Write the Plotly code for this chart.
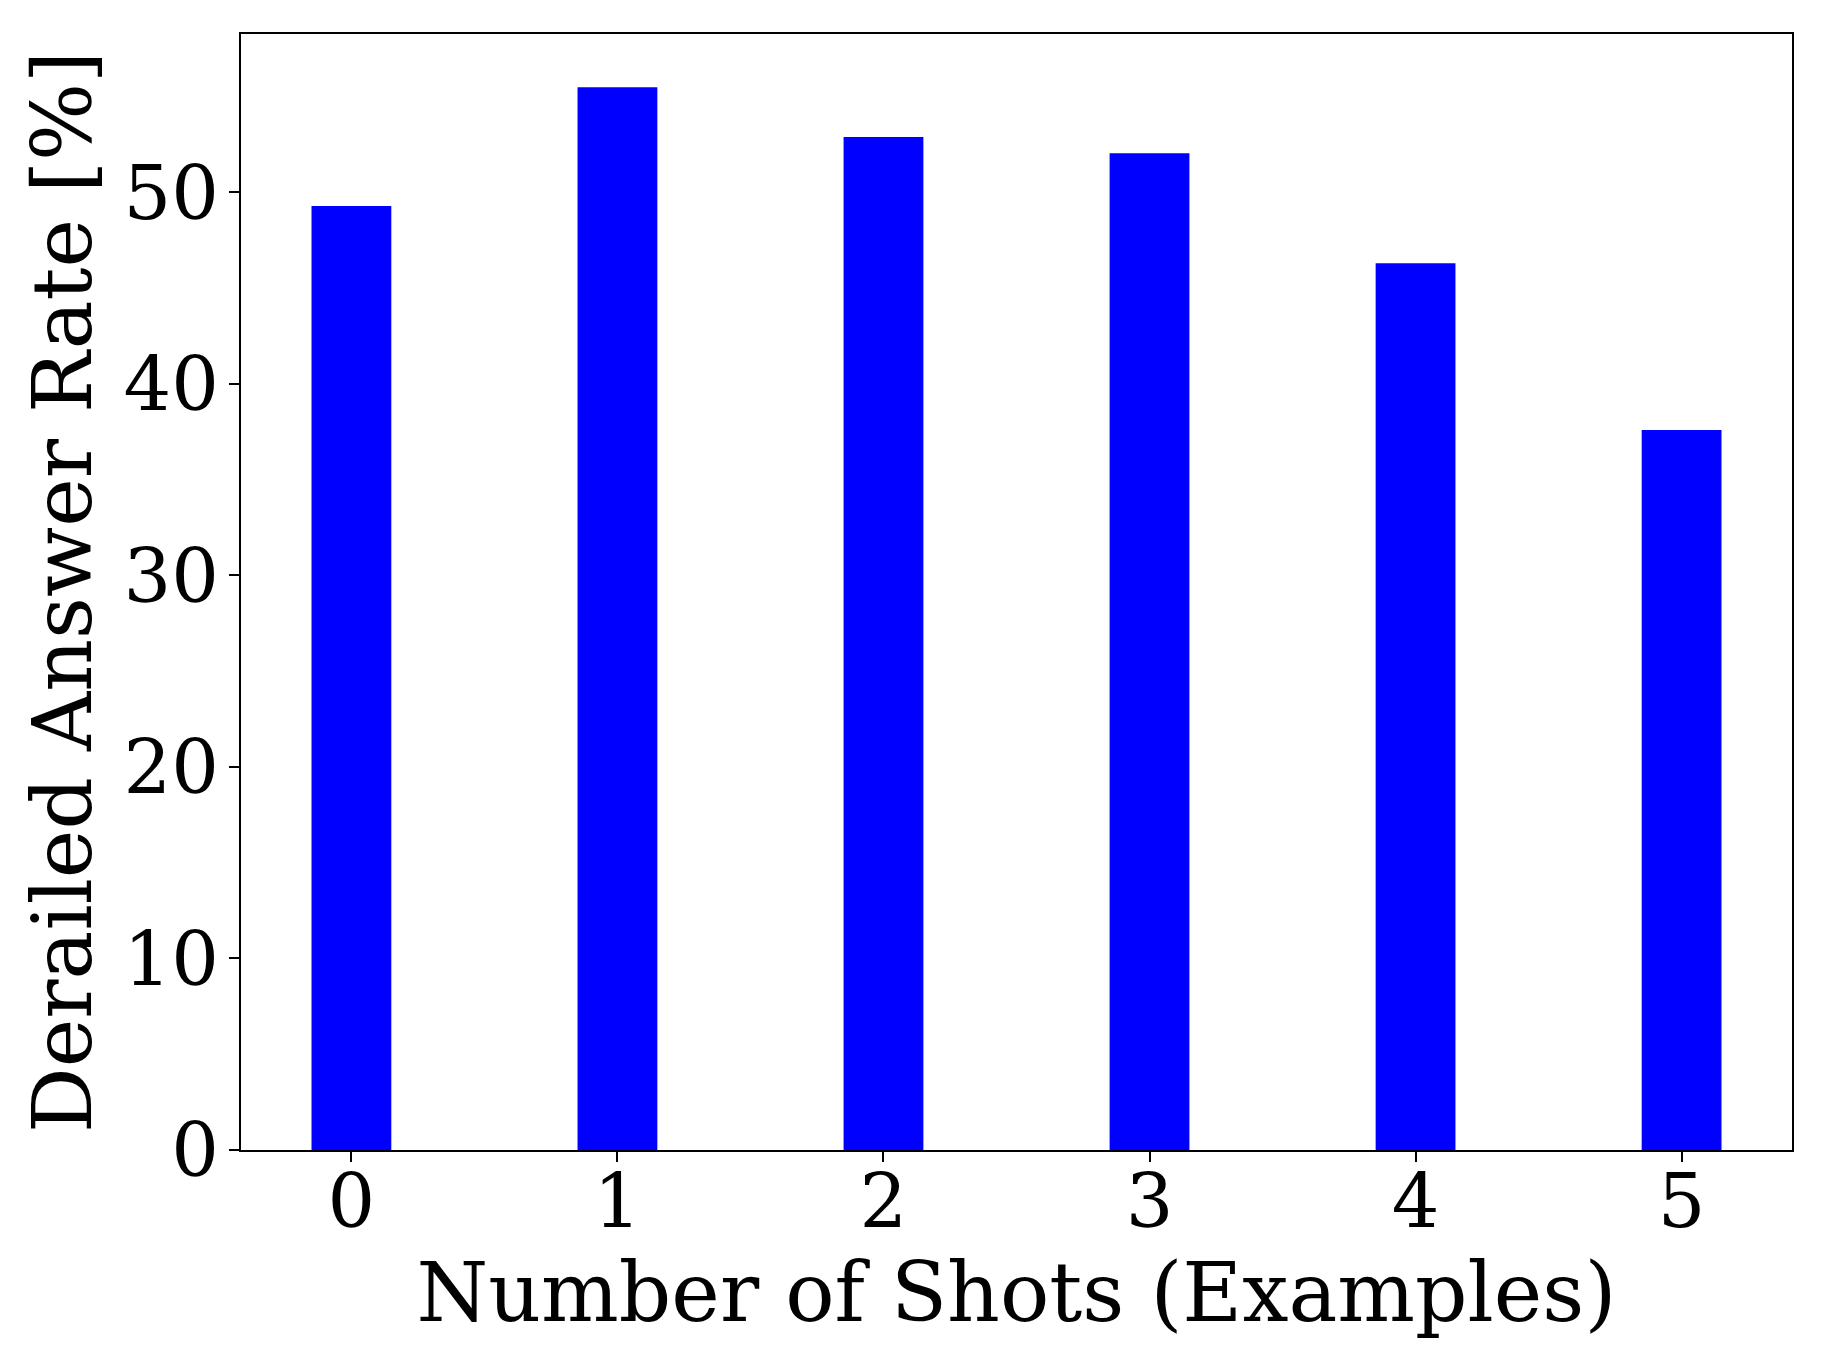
import plotly.graph_objects as go

shots = [0, 1, 2, 3, 4, 5]
derailed_rate = [49.3, 55.5, 52.9, 52.05, 46.3, 37.6]
y_ticks = [0, 10, 20, 30, 40, 50]

fig = go.Figure()
fig.add_trace(go.Bar(x=shots, y=derailed_rate, width=0.3,
                     marker=dict(color="#0000ff", line=dict(width=0))))

axis_common = dict(showline=True, linecolor="black", linewidth=2, mirror=True,
                   ticks="outside", ticklen=10, tickwidth=1.5, tickcolor="black",
                   showgrid=False, zeroline=False,
                   tickfont=dict(family="DejaVu Serif", size=75, color="black"))

fig.update_layout(
    width=1827, height=1370,
    margin=dict(l=233, r=43, t=26, b=228),
    plot_bgcolor="white", paper_bgcolor="white",
    showlegend=False,
    xaxis=dict(range=[-0.415, 5.415], tickvals=shots, ticklabelstandoff=-25,
               title=dict(text="Number of Shots (Examples)", standoff=4,
                          font=dict(family="DejaVu Serif", size=82, color="black")),
               **axis_common),
    yaxis=dict(range=[0, 58.275], tickvals=y_ticks, ticklabelstandoff=-5,
               title=dict(text="Derailed Answer Rate [%]", standoff=5,
                          font=dict(family="DejaVu Serif", size=82, color="black")),
               **axis_common),
)

fig.write_html("out.html")
